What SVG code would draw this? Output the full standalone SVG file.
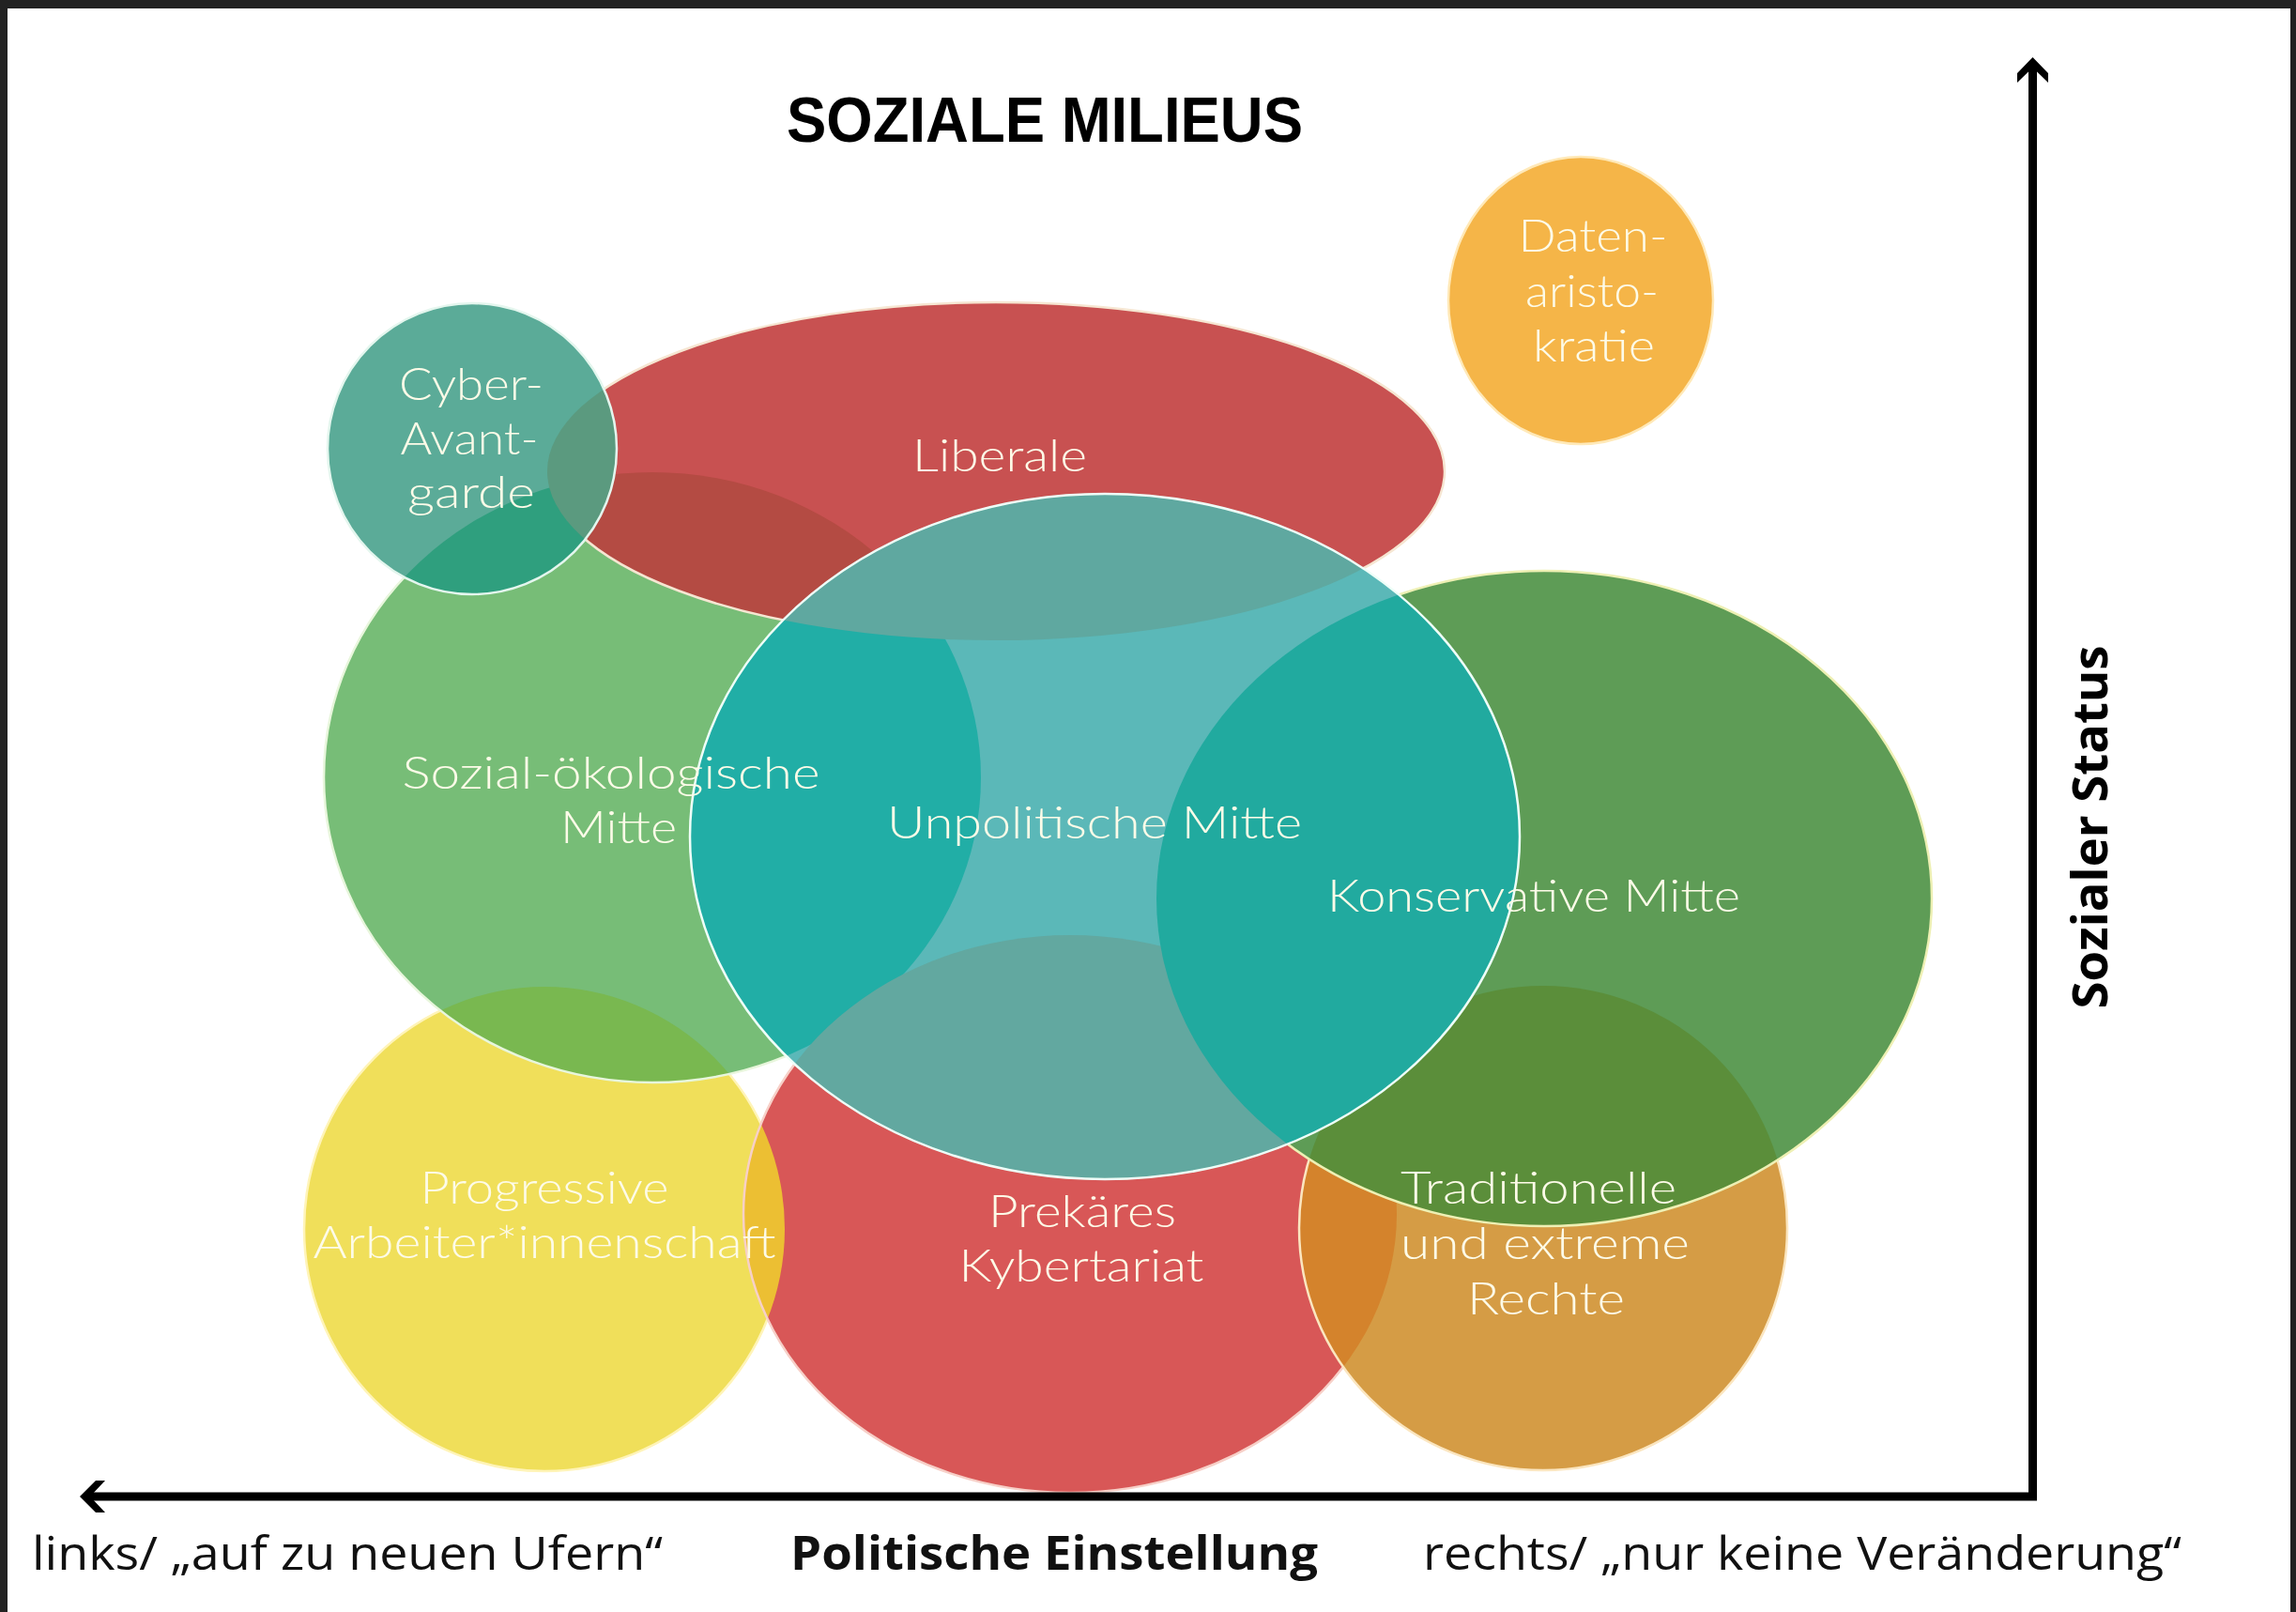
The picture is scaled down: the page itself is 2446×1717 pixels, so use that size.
<svg xmlns="http://www.w3.org/2000/svg" width="2446" height="1717" viewBox="0 0 2446 1717">
<style>
.lbl{font-family:Lato,"Open Sans",sans-serif;font-weight:300;font-size:47px;fill:#fdfbe8;text-anchor:middle}
.axl{font-family:"Open Sans","Noto Sans",sans-serif;font-size:50px;fill:#111}
.edge{fill:none;stroke-width:2.5}
</style>
<defs>
<clipPath id="c-yel"><ellipse cx="580" cy="1309" rx="256" ry="258"/></clipPath>
<clipPath id="c-soz"><ellipse cx="695" cy="828" rx="350" ry="325"/></clipPath>
<clipPath id="c-lib"><ellipse cx="1061" cy="502" rx="478" ry="180"/></clipPath>
<clipPath id="c-pre"><ellipse cx="1140" cy="1293" rx="348" ry="297"/></clipPath>
<clipPath id="c-tra"><ellipse cx="1644" cy="1308" rx="260" ry="258"/></clipPath>
<clipPath id="c-kon"><ellipse cx="1645" cy="957" rx="413" ry="349"/></clipPath>
</defs>
<rect x="0" y="0" width="2446" height="1717" fill="#ffffff"/>
<rect x="0" y="0" width="2446" height="9" fill="#222"/>
<rect x="0" y="0" width="8" height="1717" fill="#222"/>
<rect x="2440" y="0" width="6" height="1717" fill="#222"/>

<text x="838" y="151" font-family="'Liberation Sans',Arial,sans-serif" font-weight="bold" font-size="68" textLength="550" lengthAdjust="spacingAndGlyphs" fill="#000">SOZIALE MILIEUS</text>

<g id="node-progressive">
<ellipse cx="580" cy="1309" rx="256" ry="258" fill="#f0df5a"/>
<ellipse class="edge" cx="580" cy="1309" rx="256" ry="258" stroke="#fff4b8"/>
</g>
<g id="node-sozial-oekologische-mitte">
<ellipse cx="695" cy="828" rx="350" ry="325" fill="#77bd77"/>
<ellipse cx="695" cy="828" rx="350" ry="325" fill="#79b850" clip-path="url(#c-yel)"/>
<ellipse class="edge" cx="695" cy="828" rx="350" ry="325" stroke="#e8f6dc"/>
</g>
<g id="node-liberale">
<ellipse cx="1061" cy="502" rx="478" ry="180" fill="#c85151"/>
<ellipse cx="1061" cy="502" rx="478" ry="180" fill="#b44b43" clip-path="url(#c-soz)"/>
<ellipse class="edge" cx="1061" cy="502" rx="478" ry="180" stroke="#f6e6d2"/>
</g>
<g id="node-cyber-avantgarde">
<ellipse cx="503" cy="478" rx="154" ry="155" fill="#5bab98"/>
<ellipse cx="503" cy="478" rx="154" ry="155" fill="#2f9f7e" clip-path="url(#c-soz)"/>
<ellipse cx="503" cy="478" rx="154" ry="155" fill="#5b9a7f" clip-path="url(#c-lib)"/>
<ellipse class="edge" cx="503" cy="478" rx="154" ry="155" stroke="#e4f6ee"/>
</g>
<g id="node-prekaeres-kybertariat">
<ellipse cx="1140" cy="1293" rx="348" ry="297" fill="#d85757"/>
<ellipse cx="1140" cy="1293" rx="348" ry="297" fill="#ecbf33" clip-path="url(#c-yel)"/>
<ellipse class="edge" cx="1140" cy="1293" rx="348" ry="297" stroke="#f7d0c8"/>
</g>
<g id="node-traditionelle-und-extreme-rechte">
<ellipse cx="1644" cy="1308" rx="260" ry="258" fill="#d59c45"/>
<ellipse cx="1644" cy="1308" rx="260" ry="258" fill="#d4832c" clip-path="url(#c-pre)"/>
<ellipse class="edge" cx="1644" cy="1308" rx="260" ry="258" stroke="#fbe6c0"/>
</g>
<g id="node-konservative-mitte">
<ellipse cx="1645" cy="957" rx="413" ry="349" fill="#5e9c56"/>
<ellipse cx="1645" cy="957" rx="413" ry="349" fill="#5b8e3a" clip-path="url(#c-tra)"/>
<ellipse class="edge" cx="1645" cy="957" rx="413" ry="349" stroke="#eef0b4"/>
</g>
<g id="node-unpolitische-mitte">
<ellipse cx="1177" cy="891" rx="442" ry="365" fill="#5bb8b8"/>
<ellipse cx="1177" cy="891" rx="442" ry="365" fill="#21aea6" clip-path="url(#c-soz)"/>
<ellipse cx="1177" cy="891" rx="442" ry="365" fill="#5fa8a0" clip-path="url(#c-lib)"/>
<ellipse cx="1177" cy="891" rx="442" ry="365" fill="#62a8a0" clip-path="url(#c-pre)"/>
<ellipse cx="1177" cy="891" rx="442" ry="365" fill="#21aa9f" clip-path="url(#c-kon)"/>
<ellipse class="edge" cx="1177" cy="891" rx="442" ry="365" stroke="#eefff8"/>
</g>
<g id="node-datenaristokratie">
<ellipse cx="1684" cy="320" rx="141" ry="153" fill="#f5b548"/>
<ellipse class="edge" cx="1684" cy="320" rx="141" ry="153" stroke="#ffe9b8"/>
</g>

<g id="labels">
<g id="label-cyber"><text class="lbl" x="502" y="426" textLength="154" lengthAdjust="spacingAndGlyphs">Cyber-</text><text class="lbl" x="500" y="484" textLength="147" lengthAdjust="spacingAndGlyphs">Avant-</text><text class="lbl" x="502" y="541" textLength="136" lengthAdjust="spacingAndGlyphs">garde</text></g>
<g id="label-liberale"><text class="lbl" x="1065" y="502" textLength="186" lengthAdjust="spacingAndGlyphs">Liberale</text></g>
<g id="label-daten"><text class="lbl" x="1697" y="268" textLength="159" lengthAdjust="spacingAndGlyphs">Daten-</text><text class="lbl" x="1696" y="327" textLength="142" lengthAdjust="spacingAndGlyphs">aristo-</text><text class="lbl" x="1698" y="385" textLength="130" lengthAdjust="spacingAndGlyphs">kratie</text></g>
<g id="label-sozial"><text class="lbl" x="651" y="840" textLength="445" lengthAdjust="spacingAndGlyphs">Sozial-ökologische</text><text class="lbl" x="659" y="898" textLength="124" lengthAdjust="spacingAndGlyphs">Mitte</text></g>
<g id="label-unpolitische"><text class="lbl" x="1166" y="893" textLength="442" lengthAdjust="spacingAndGlyphs">Unpolitische Mitte</text></g>
<g id="label-konservative"><text class="lbl" x="1634" y="971" textLength="440" lengthAdjust="spacingAndGlyphs">Konservative Mitte</text></g>
<g id="label-progressive"><text class="lbl" x="580" y="1282" textLength="265" lengthAdjust="spacingAndGlyphs">Progressive</text><text class="lbl" x="580" y="1340" textLength="493" lengthAdjust="spacingAndGlyphs">Arbeiter*innenschaft</text></g>
<g id="label-prekaeres"><text class="lbl" x="1153" y="1307" textLength="200" lengthAdjust="spacingAndGlyphs">Prekäres</text><text class="lbl" x="1152" y="1365" textLength="261" lengthAdjust="spacingAndGlyphs">Kybertariat</text></g>
<g id="label-traditionelle"><text class="lbl" x="1639" y="1282" textLength="294" lengthAdjust="spacingAndGlyphs">Traditionelle</text><text class="lbl" x="1646" y="1341" textLength="308" lengthAdjust="spacingAndGlyphs">und extreme</text><text class="lbl" x="1647" y="1400" textLength="168" lengthAdjust="spacingAndGlyphs">Rechte</text></g>
</g>

<g id="axes">
<line x1="2165.5" y1="70" x2="2165.5" y2="1598" stroke="#000" stroke-width="9"/>
<line x1="92" y1="1594" x2="2170" y2="1594" stroke="#000" stroke-width="9"/>
<polygon points="2165.5,61 2182,78 2182,88 2165.5,72 2149,88 2149,78" fill="#000"/>
<polygon points="85,1594 102,1577 112,1577 96,1594 112,1611 102,1611" fill="#000"/>
</g>

<g id="axis-labels">
<text class="axl" x="34" y="1672" textLength="672" lengthAdjust="spacingAndGlyphs">links/ „auf zu neuen Ufern“</text>
<text class="axl" x="842" y="1672" font-weight="bold" textLength="562" lengthAdjust="spacingAndGlyphs">Politische Einstellung</text>
<text class="axl" x="1516" y="1672" textLength="808" lengthAdjust="spacingAndGlyphs">rechts/ „nur keine Veränderung“</text>
<text transform="translate(2245,881) rotate(-90)" x="0" y="0" text-anchor="middle" font-family="'Open Sans','Noto Sans',sans-serif" font-weight="bold" font-size="52" textLength="387" lengthAdjust="spacingAndGlyphs" fill="#000">Sozialer Status</text>
</g>
</svg>
